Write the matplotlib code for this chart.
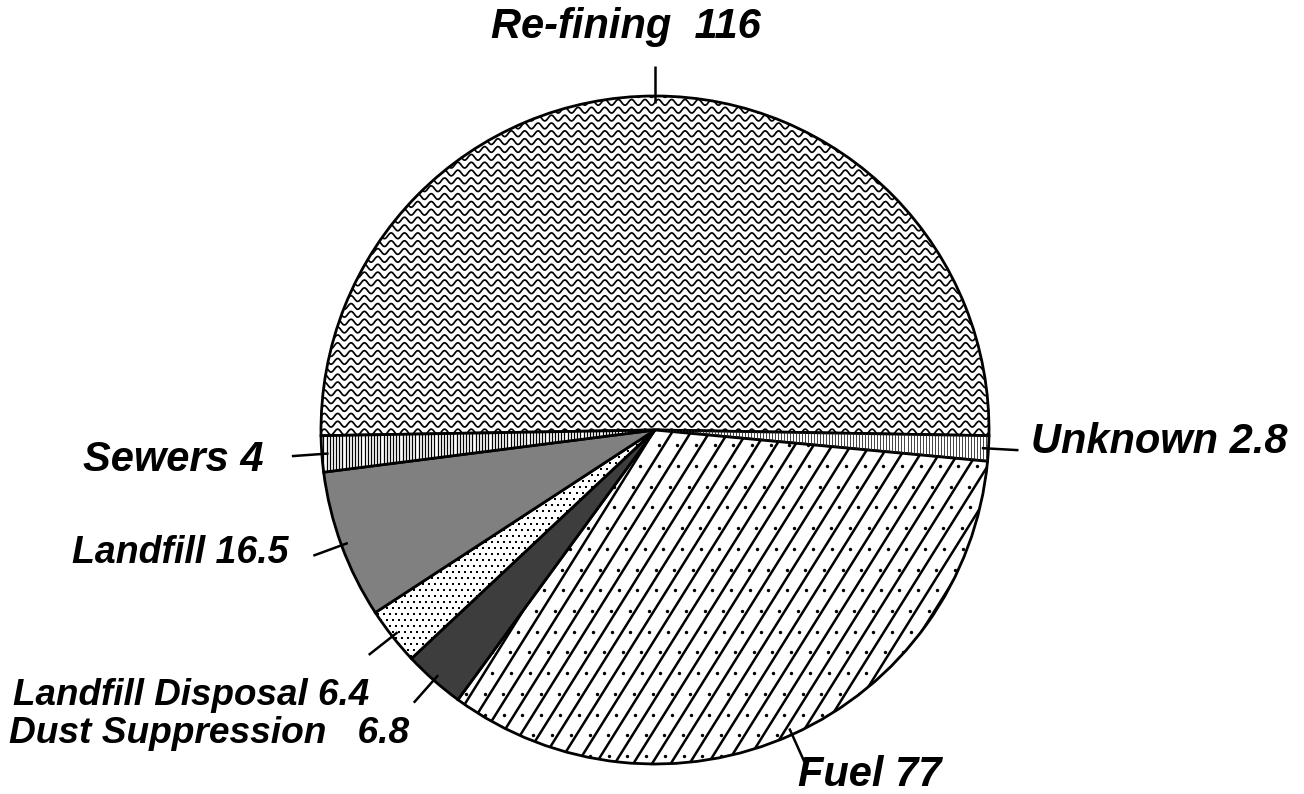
import matplotlib
matplotlib.use('Agg')
import matplotlib.pyplot as plt
import numpy as np
from matplotlib.collections import LineCollection

# data
categories = ['Re-fining', 'Unknown', 'Fuel', 'Dust Suppression',
              'Landfill Disposal', 'Landfill', 'Sewers']
values = [116, 2.8, 77, 6.8, 6.4, 16.5, 4]
label_texts = ['Re-fining  116', 'Unknown 2.8', 'Fuel 77', 'Dust Suppression   6.8',
               'Landfill Disposal 6.4', 'Landfill 16.5', 'Sewers 4']

# layout (pie radius units) for the label anchors
label_pos = [(-0.087, 1.207), (1.126, -0.036), (0.429, -1.033), (-0.736, -0.910),
             (-0.856, -0.796), (-1.096, -0.369), (-1.171, -0.090)]
label_ha = ['center', 'left', 'left', 'right', 'right', 'right', 'right']
label_size = [30, 30, 30, 26.7, 26.5, 27, 30]

W, H, DPI = 1304, 794, 100
CX, CY, R = 655, 430, 334

fig = plt.figure(figsize=(W / DPI, H / DPI), dpi=DPI)
ax = fig.add_axes([0, 0, 1, 1])

start = 90 + values[0] / sum(values) * 180
wedges, _ = ax.pie(values, startangle=start, counterclock=False, radius=1,
                   colors=['white', 'white', 'white', '#3d3d3d', 'white', '#808080', 'white'],
                   wedgeprops=dict(edgecolor='black', linewidth=2.0))


def add_lines(wedge, segs, lw, color='black'):
    lc = LineCollection(segs, colors=color, linewidths=lw, zorder=wedge.get_zorder() + 0.1)
    ax.add_collection(lc)
    lc.set_clip_path(wedge)


def add_dots(wedge, xs, ys, size, color='black', marker='s'):
    sc = ax.scatter(xs, ys, s=size, c=color, marker=marker, linewidths=0,
                    zorder=wedge.get_zorder() + 0.1)
    sc.set_clip_path(wedge)


# Re-fining: wavy lines
xw = np.linspace(-1.05, 1.05, 1600)
segs = []
for y0 in np.arange(-0.1, 1.05, 0.0235):
    segs.append(np.column_stack([xw, y0 + 0.0085 * np.sin(2 * np.pi * xw / 0.04)]))
add_lines(wedges[0], segs, 1.25)

# Unknown: fine vertical lines
segs = [[(x, -0.2), (x, 0.05)] for x in np.arange(0.0, 1.05, 0.009)]
add_lines(wedges[1], segs, 0.6, '#222222')

# Fuel: diagonal lines with dots
ang = np.deg2rad(58)
dx = 0.056
segs = []
for x0 in np.arange(-2.2, 2.0, dx):
    segs.append([(x0, -1.1), (x0 + 2.2 / np.tan(ang), 1.1)])
add_lines(wedges[2], segs, 1.8)
gx, gy = [], []
for x0 in np.arange(-2.2, 2.0, dx):
    for k, t in enumerate(np.arange(-1.1, 0.1, 0.062)):
        gx.append(x0 + dx / 2 + (t + 1.1) / np.tan(ang) + (0.012 if k % 2 else -0.004))
        gy.append(t)
add_dots(wedges[2], gx, gy, 6, marker='o')

# Landfill Disposal: fine dots
gx, gy = [], []
for i, y in enumerate(np.arange(-1.0, 0.0, 0.018)):
    for x in np.arange(-1.0, 0.0, 0.018):
        gx.append(x + (0.009 if i % 2 else 0))
        gy.append(y)
add_dots(wedges[4], gx, gy, 1.1)

# Sewers: vertical lines
segs = [[(x, -0.2), (x, 0.05)] for x in np.arange(-1.05, 0.0, 0.0095)]
add_lines(wedges[6], segs, 0.9)

# leaders and labels
for i, w in enumerate(wedges):
    mid = np.deg2rad((w.theta1 + w.theta2) / 2)
    ax.plot([0.98 * np.cos(mid), 1.09 * np.cos(mid)],
            [0.98 * np.sin(mid), 1.09 * np.sin(mid)], color='black', lw=1.8,
            zorder=5, solid_capstyle='butt')
    ax.text(label_pos[i][0], label_pos[i][1], label_texts[i], ha=label_ha[i], va='center',
            fontsize=label_size[i], fontweight='bold', fontstyle='italic',
            family='Liberation Sans')

ax.set_xlim(-CX / R, (W - CX) / R)
ax.set_ylim(-(H - CY) / R, CY / R)
ax.set_aspect('auto')
ax.axis('off')

fig.savefig('out.png', dpi=DPI)
